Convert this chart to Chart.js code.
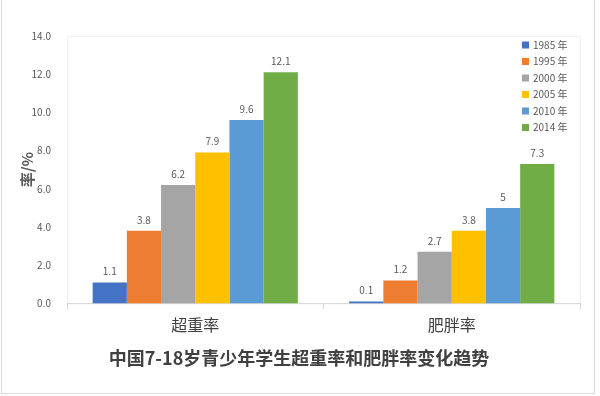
<!DOCTYPE html>
<html>
<head>
<meta charset="utf-8">
<script src="https://cdn.jsdelivr.net/npm/chart.js@4"></script>
<style>
  html, body { margin: 0; padding: 0; background: #fff; }
  #wrap { width: 600px; height: 396px; }
</style>
</head>
<body>
<div id="wrap"><canvas id="chart" width="600" height="396"></canvas></div>
<script>
const categories = ['超重率', '肥胖率']
const years = ['1985 年', '1995 年', '2000 年', '2005 年', '2010 年', '2014 年']
const v1985 = [1.1, 0.1]
const v1995 = [3.8, 1.2]
const v2000 = [6.2, 2.7]
const v2005 = [7.9, 3.8]
const v2010 = [9.6, 5]
const v2014 = [12.1, 7.3]
const colors = ['#4472C4', '#ED7D31', '#A5A5A5', '#FFC000', '#5B9BD5', '#70AD47']

const cjk = '"Noto Sans CJK SC", "Noto Sans", sans-serif'
const grey = '#595959'

// outer frame + faint plot box
const frame = {
  id: 'frame',
  beforeDraw(chart) {
    const c = chart.ctx, a = chart.chartArea
    c.save()
    c.strokeStyle = '#d9d9d9'
    c.lineWidth = 1
    c.strokeRect(1.5, -1, 593, 394.5)
    c.strokeStyle = '#f0f0f0'
    c.strokeRect(a.left + 0.5, a.top + 0.5, a.right - a.left, a.bottom - a.top)
    c.restore()
  }
}

// value labels above bars
const valueLabels = {
  id: 'valueLabels',
  afterDatasetsDraw(chart) {
    const c = chart.ctx
    c.save()
    c.font = '10px ' + cjk
    c.fillStyle = grey
    c.textAlign = 'center'
    c.textBaseline = 'bottom'
    chart.data.datasets.forEach((ds, i) => {
      chart.getDatasetMeta(i).data.forEach((bar, j) => {
        c.fillText(String(ds.data[j]), bar.x, bar.y - 6)
      })
    })
    c.restore()
  }
}

// legend inside the plot area, top right
const boxLegend = {
  id: 'boxLegend',
  afterDraw(chart) {
    const c = chart.ctx
    c.save()
    c.font = '10px ' + cjk
    c.textBaseline = 'middle'
    chart.data.datasets.forEach((ds, i) => {
      const y = 45 + i * 16.5
      c.fillStyle = ds.backgroundColor
      c.fillRect(522, y - 3.5, 7, 7)
      c.fillStyle = grey
      c.fillText(ds.label, 533, y)
    })
    c.restore()
  }
}

const series = [v1985, v1995, v2000, v2005, v2010, v2014]

new Chart(document.getElementById('chart'), {
  type: 'bar',
  data: {
    labels: categories,
    datasets: series.map((d, i) => ({
      label: years[i],
      data: d,
      backgroundColor: colors[i],
      borderWidth: 0
    }))
  },
  options: {
    responsive: false,
    animation: false,
    categoryPercentage: 0.8,
    barPercentage: 1.0,
    layout: { padding: { left: 18, right: 20, top: 36, bottom: 17 } },
    plugins: {
      legend: { display: false },
      tooltip: { enabled: false },
      title: {
        display: true,
        position: 'bottom',
        text: '中国7-18岁青少年学生超重率和肥胖率变化趋势',
        color: '#404040',
        font: { family: cjk, size: 18, weight: 'bold' },
        padding: { top: 8, bottom: 10 }
      }
    },
    scales: {
      x: {
        grid: { display: true, drawOnChartArea: false, color: '#d9d9d9', tickLength: 6, offset: true },
        border: { color: '#d9d9d9' },
        ticks: { color: '#404040', font: { family: cjk, size: 16 }, padding: 6 },
        afterFit: s => { s.height = 36 }
      },
      y: {
        min: 0,
        max: 14,
        grid: { display: false },
        border: { display: false },
        ticks: {
          stepSize: 2,
          color: grey,
          font: { family: cjk, size: 10 },
          padding: 8,
          callback: v => v.toFixed(1)
        },
        title: {
          display: true,
          text: '率/%',
          color: grey,
          font: { family: cjk, size: 15, weight: 'bold' },
          padding: 0
        },
        afterFit: s => { s.width = 49 }
      }
    }
  },
  plugins: [frame, valueLabels, boxLegend]
})
</script>
</body>
</html>
